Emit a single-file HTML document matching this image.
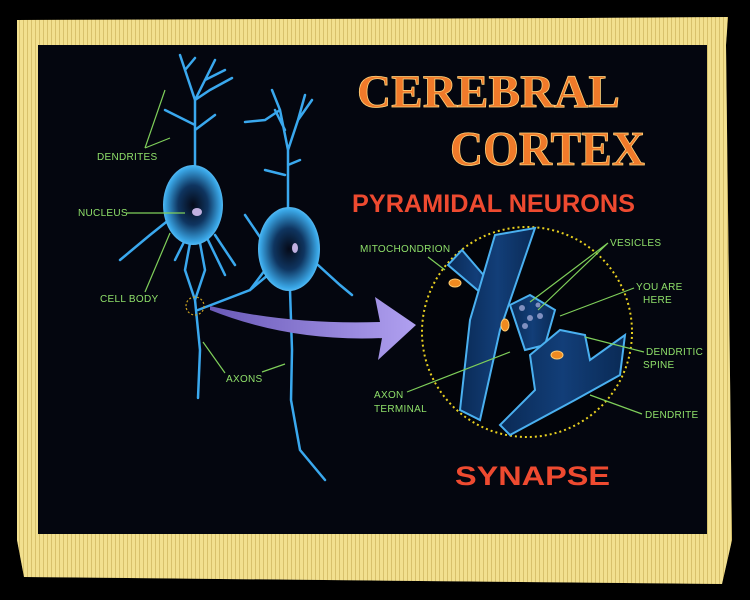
<!DOCTYPE html>
<html><head><meta charset="utf-8"><style>
html,body{margin:0;padding:0;background:#000;width:750px;height:600px;overflow:hidden}
svg{display:block}
.g{font-family:"Liberation Sans",sans-serif;font-size:10px;fill:#8fe06a;letter-spacing:0.3px}
.ln{stroke:#7fcf5a;stroke-width:1.2;fill:none}
.d{stroke:#3aa8ee;stroke-linecap:round;fill:none}
</style></head><body>
<svg width="750" height="600" viewBox="0 0 750 600" xmlns="http://www.w3.org/2000/svg">
<defs>
<radialGradient id="cb" cx="50%" cy="50%" r="55%">
<stop offset="0" stop-color="#050a18"/><stop offset="0.45" stop-color="#0f3560"/><stop offset="0.85" stop-color="#3aa8e8"/><stop offset="1" stop-color="#7fd0ff"/>
</radialGradient>
<linearGradient id="ar" x1="0" x2="1"><stop offset="0" stop-color="#6a5ab8"/><stop offset="1" stop-color="#b0a0f0"/></linearGradient>
<linearGradient id="sy" x1="0" x2="1"><stop offset="0" stop-color="#0a2a55"/><stop offset="0.5" stop-color="#123e78"/><stop offset="1" stop-color="#0a2a55"/></linearGradient>
<pattern id="fr" width="4" height="10" patternUnits="userSpaceOnUse"><rect width="4" height="10" fill="#f3e39a"/><rect x="3" width="1" height="10" fill="#c8b060"/></pattern>
</defs>
<rect width="750" height="600" fill="#000"/>
<!-- fringe -->
<path d="M17 20 L580 18 L728 17 L726 45 L732 540 L722 584 L24 577 L17 540 Z" fill="url(#fr)"/>
<path d="M17 20 L580 18 L728 17 L726 45 L732 540 L722 584 L24 577 L17 540 Z" fill="#f0dc80" opacity="0.4"/>
<!-- panel -->
<rect x="38" y="45" width="669" height="489" fill="#04060f"/>
<!-- title -->
<g font-family="'Liberation Serif',serif" font-weight="bold" fill="#f07a2a" stroke="#ffd27a" stroke-width="0.8">
<text x="357" y="107" font-size="47" textLength="263" lengthAdjust="spacingAndGlyphs">CEREBRAL</text>
<text x="450" y="165" font-size="49" textLength="195" lengthAdjust="spacingAndGlyphs">CORTEX</text>
</g>
<g font-family="'Liberation Sans',sans-serif" font-weight="bold" fill="#ee4a30">
<text x="352" y="212" font-size="25" textLength="283" lengthAdjust="spacingAndGlyphs">PYRAMIDAL NEURONS</text>
<text x="455" y="485" font-size="27" textLength="155" lengthAdjust="spacingAndGlyphs">SYNAPSE</text>
</g>
<!-- neuron 1 -->
<g class="d" stroke-width="2.5">
<path d="M195 165 L195 100 L185 70 L180 55 M185 70 L195 58 M195 100 L205 80 L215 60 M205 80 L225 70 M195 100 L210 90 L232 78 M195 125 L175 115 L165 110 M195 130 L215 115"/>
<path d="M175 215 L150 235 L120 260 M185 240 L175 260 M215 235 L235 265 M208 240 L225 275"/>
<path d="M190 243 L185 270 L195 300 L200 350 L198 398 M200 243 L205 270 L195 300 M198 310 L250 290 L268 275"/>
</g>
<ellipse cx="193" cy="205" rx="30" ry="40" fill="url(#cb)"/>
<ellipse cx="197" cy="212" rx="5" ry="4" fill="#c0b0e0"/>
<circle cx="195" cy="306" r="9" fill="none" stroke="#c9a020" stroke-width="1.2" stroke-dasharray="2 2"/>
<!-- neuron 2 -->
<g class="d" stroke-width="2.5">
<path d="M288 210 L288 150 L280 110 L272 90 M280 110 L265 120 L245 122 M285 130 L275 110 M288 150 L298 120 L312 100 M298 120 L305 95 M288 165 L300 160 M285 175 L265 170"/>
<path d="M262 240 L245 215 M265 270 L250 290 M318 265 L340 285 L352 295"/>
<path d="M290 290 L292 350 L291 400 L300 450 L325 480"/>
</g>
<ellipse cx="289" cy="249" rx="31" ry="42" fill="url(#cb)"/>
<ellipse cx="295" cy="248" rx="3" ry="5" fill="#c0b0e0"/>
<!-- arrow -->
<path d="M210 306 Q290 325 380 322 L375 297 L416 325 L378 360 L382 338 Q290 342 210 310 Z" fill="url(#ar)"/>
<!-- left labels -->
<text class="g" x="97" y="160">DENDRITES</text>
<path class="ln" d="M145 148 L165 90 M145 148 L170 138"/>
<text class="g" x="78" y="216">NUCLEUS</text>
<path class="ln" d="M126 213 L185 213"/>
<text class="g" x="100" y="302">CELL BODY</text>
<path class="ln" d="M145 292 L170 233"/>
<text class="g" x="226" y="382">AXONS</text>
<path class="ln" d="M225 373 L203 342 M262 372 L285 364"/>
<!-- synapse circle -->
<circle cx="527" cy="332" r="105" fill="#02040a" stroke="#e8d020" stroke-width="2" stroke-dasharray="2 3"/>
<g fill="url(#sy)" stroke="#4ab0f0" stroke-width="2">
<path d="M448 265 L462 250 L505 300 L495 305 Z"/>
<path d="M495 235 L535 228 L500 330 L480 420 L460 410 L470 320 Z"/>
<path d="M510 305 L530 295 L555 310 L545 345 L525 350 Z"/>
<path d="M530 355 L560 330 L585 335 L590 360 L625 335 L620 375 L575 400 L510 435 L500 425 L535 390 Z"/>
</g>
<g fill="#f08a20" stroke="#ffcc70"><ellipse cx="455" cy="283" rx="6" ry="4"/><ellipse cx="505" cy="325" rx="4" ry="6"/><ellipse cx="557" cy="355" rx="6" ry="4"/></g>
<g fill="#8090c0"><circle cx="522" cy="308" r="3"/><circle cx="530" cy="318" r="3"/><circle cx="540" cy="316" r="3"/><circle cx="525" cy="326" r="3"/><circle cx="538" cy="305" r="2.5"/></g>
<!-- synapse labels -->
<text class="g" x="360" y="252">MITOCHONDRION</text>
<path class="ln" d="M428 257 L445 270"/>
<text class="g" x="610" y="246">VESICLES</text>
<path class="ln" d="M608 243 L530 302 M608 243 L538 310"/>
<text class="g" x="636" y="290">YOU ARE</text>
<text class="g" x="643" y="303">HERE</text>
<path class="ln" d="M634 288 L560 316"/>
<text class="g" x="646" y="355">DENDRITIC</text>
<text class="g" x="643" y="368">SPINE</text>
<path class="ln" d="M644 352 L585 337"/>
<text class="g" x="645" y="418">DENDRITE</text>
<path class="ln" d="M642 414 L590 395"/>
<text class="g" x="374" y="398">AXON</text>
<text class="g" x="374" y="412">TERMINAL</text>
<path class="ln" d="M407 392 L510 352"/>
</svg>
</body></html>
